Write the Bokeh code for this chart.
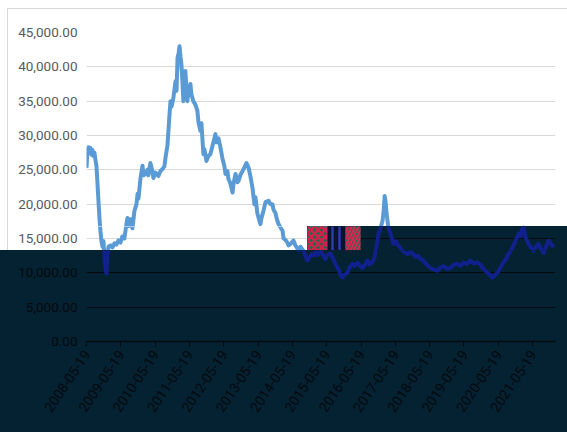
import numpy as np
import pandas as pd
from bokeh.plotting import figure
from bokeh.layouts import column, row
from bokeh.models import Range1d, FixedTicker, NumeralTickFormatter, Grid, ColumnDataSource
from bokeh.embed import file_html
from bokeh.resources import INLINE

# ---------------- data ----------------
dates = [
    "2008-05-19", "2008-05-28", "2008-06-08", "2008-06-18", "2008-06-29", "2008-07-10",
    "2008-07-21", "2008-08-01", "2008-08-12", "2008-08-22", "2008-09-02", "2008-09-13",
    "2008-09-23", "2008-10-04", "2008-10-15", "2008-10-26", "2008-11-05", "2008-11-16",
    "2008-11-27", "2008-12-07", "2008-12-18", "2008-12-29", "2009-01-08", "2009-01-30",
    "2009-02-19", "2009-03-12", "2009-04-02", "2009-04-23", "2009-05-15", "2009-06-05",
    "2009-06-26", "2009-07-18", "2009-07-29", "2009-08-08", "2009-08-30", "2009-09-20",
    "2009-10-11", "2009-11-02", "2009-11-13", "2009-11-23", "2009-12-15", "2010-01-05",
    "2010-01-16", "2010-02-06", "2010-02-26", "2010-03-08", "2010-03-30", "2010-04-20",
    "2010-05-01", "2010-05-22", "2010-06-23", "2010-07-14", "2010-08-05", "2010-08-26",
    "2010-09-06", "2010-09-27", "2010-10-08", "2010-10-19", "2010-10-30", "2010-11-10",
    "2010-11-30", "2010-12-22", "2011-01-02", "2011-01-13", "2011-01-24", "2011-02-03",
    "2011-02-13", "2011-02-23", "2011-03-05", "2011-03-16", "2011-03-27", "2011-04-06",
    "2011-04-17", "2011-04-28", "2011-05-08", "2011-05-30", "2011-06-09", "2011-06-30",
    "2011-07-22", "2011-08-12", "2011-08-23", "2011-09-13", "2011-09-24", "2011-10-15",
    "2011-10-26", "2011-11-16", "2011-12-07", "2011-12-29", "2012-01-20", "2012-02-20",
    "2012-03-01", "2012-03-23", "2012-04-13", "2012-05-04", "2012-05-26", "2012-06-06",
    "2012-06-27", "2012-07-07", "2012-07-29", "2012-08-20", "2012-08-31", "2012-09-21",
    "2012-10-12", "2012-10-23", "2012-11-13", "2012-12-04", "2012-12-26", "2013-01-16",
    "2013-02-07", "2013-02-27", "2013-03-20", "2013-04-10", "2013-04-21", "2013-05-12",
    "2013-06-13", "2013-06-24", "2013-07-15", "2013-08-06", "2013-09-07", "2013-09-28",
    "2013-10-19", "2013-10-30", "2013-11-20", "2013-12-01", "2013-12-22", "2014-01-13",
    "2014-02-04", "2014-02-14", "2014-03-06", "2014-03-27", "2014-04-07", "2014-04-28",
    "2014-05-30", "2014-06-20", "2014-07-23", "2014-08-13", "2014-09-14", "2014-10-05",
    "2014-10-27", "2014-11-17", "2014-12-08", "2014-12-30", "2015-01-21", "2015-02-10",
    "2015-03-13", "2015-04-03", "2015-05-05", "2015-05-26", "2015-06-27", "2015-07-19",
    "2015-08-20", "2015-09-21", "2015-10-12", "2015-11-03", "2015-11-24", "2015-12-26",
    "2016-01-17", "2016-02-18", "2016-03-09", "2016-04-11", "2016-05-13", "2016-06-03",
    "2016-07-05", "2016-07-27", "2016-08-17", "2016-09-18", "2016-10-09", "2016-10-20",
    "2016-11-11", "2016-11-21", "2016-12-12", "2017-01-03", "2017-01-14", "2017-01-25",
    "2017-02-04", "2017-02-14", "2017-02-24", "2017-03-06", "2017-03-28", "2017-04-29",
    "2017-05-20", "2017-06-21", "2017-07-12", "2017-08-03", "2017-09-04", "2017-09-26",
    "2017-10-28", "2017-11-18", "2017-12-20", "2018-01-11", "2018-02-11", "2018-03-14",
    "2018-04-15", "2018-05-28", "2018-06-29", "2018-08-10", "2018-09-12", "2018-10-14",
    "2018-11-15", "2018-12-28", "2019-01-29", "2019-03-11", "2019-04-12", "2019-05-14",
    "2019-06-15", "2019-07-28", "2019-08-29", "2019-10-10", "2019-11-11", "2019-12-02",
    "2020-01-04", "2020-01-25", "2020-02-26", "2020-03-18", "2020-04-08", "2020-05-10",
    "2020-06-11", "2020-07-02", "2020-08-04", "2020-08-25", "2020-09-26", "2020-10-18",
    "2020-11-19", "2020-12-21", "2021-01-11", "2021-01-22", "2021-02-12", "2021-03-04",
    "2021-04-05", "2021-04-26", "2021-05-28", "2021-06-18", "2021-07-20", "2021-08-11",
    "2021-09-12", "2021-10-03", "2021-11-04", "2021-11-26", "2021-12-28",
]
values = [
    25300, 27500, 28300, 27600, 28200, 27200,
    27900, 27000, 27500, 26500, 25500, 23000,
    20500, 18000, 16000, 14500, 13800, 14600,
    12000, 10500, 9900, 12500, 13800, 14000,
    13700, 14300, 14100, 14700, 14400, 15300,
    15000, 17100, 18000, 16800, 17800, 16500,
    19000, 20000, 21500, 20800, 23800, 25600,
    24200, 24400, 25000, 24200, 26000, 24800,
    23800, 24600, 24100, 24800, 25100, 25500,
    26700, 28500, 30700, 33000, 35000, 34200,
    35500, 37900, 36500, 41300, 42000, 43000,
    41500, 40400, 38000, 35000, 37500, 39400,
    37000, 35000, 36500, 37500, 36000, 35000,
    34500, 33600, 32000, 30700, 31800, 27300,
    28000, 26300, 27000, 27300, 28500, 30200,
    29000, 29600, 28300, 26700, 25500, 24400,
    24800, 23700, 23000, 21700, 23000, 24400,
    23200, 23400, 24300, 24800, 25400, 26000,
    25300, 24000, 22400, 20000, 21000, 18600,
    17100, 18000, 19000, 20300, 20500, 20000,
    20000, 19200, 18700, 18000, 17100, 16600,
    16100, 15000, 14800, 14400, 14000, 14200,
    14700, 14000, 13300, 13800, 13200, 12400,
    11800, 12300, 12700, 12500, 13000, 12600,
    13200, 12700, 12000, 12600, 12800, 12300,
    11300, 10500, 9800, 9300, 9700, 10000,
    10800, 11300, 11000, 11500, 10900, 10700,
    11300, 11800, 11200, 11600, 12200, 13200,
    14800, 15700, 16500, 17600, 19000, 21200,
    20300, 18700, 17600, 16500, 15700, 14200,
    14600, 14000, 13600, 13200, 12900, 12700,
    13100, 12800, 12300, 12500, 12000, 11800,
    11200, 10700, 10500, 10300, 10800, 11000,
    10600, 10700, 11200, 11300, 11000, 11500,
    11300, 11800, 11400, 11500, 11200, 10700,
    10300, 10000, 9600, 9300, 9600, 10000,
    10800, 11300, 11900, 12500, 13200, 13700,
    14700, 15700, 15300, 16200, 16600, 15200,
    14200, 13800, 13200, 13700, 14200, 13500,
    12900, 13600, 14700, 14300, 13700,
]
tick_labels = ["2008-05-19", "2009-05-19", "2010-05-19", "2011-05-19", "2012-05-19",
               "2013-05-19", "2014-05-19", "2015-05-19", "2016-05-19", "2017-05-19",
               "2018-05-19", "2019-05-19", "2020-05-19", "2021-05-19"]
y_ticks = [0, 5000, 10000, 15000, 20000, 25000, 30000, 35000, 40000, 45000]
x_start, x_end = "2008-05-19", "2022-01-17"
y_max = 45000

# ---------------- layout / style constants (pixels) ----------------
W, H = 567, 432
PL, PR, PT, PB = 86, 555, 32, 341     # plot area edges
CUT_X, CUT_HI, CUT_LO = 307, 226, 250  # edges of the dark band seen in the picture
FONT = "Roboto"
FONT_SIZE = "13.5px"
LIGHT = "#5b9bd5"
NAVY = "#10208c"
DARK = "#052232"
DARK_LINE = "#050a10"
DARK_TEXT = "#03090f"
GRAY_TEXT = "#595959"
GRID_GRAY = "#d9d9d9"
BORDER = "#d9d9d9"
# colour-noise block of the picture (pixel boxes: x0, x1, y0, y1, fill, hatch, hatch colour)
GLITCH = [
    (307, 327, 226, 237, "#e98ad6", "+", "#3fdcdc"),
    (307, 327, 237, 250, "#1d6a3c", "x", "#cf2250"),
    (327, 345, 226, 250, "#0b1130", "|", "#2b3ca6"),
    (345, 360, 226, 250, "#176d3f", "/", "#d02a55"),
]


def ms(s):
    return pd.Timestamp(s).value / 1e6


MS0, MS1 = ms(x_start), ms(x_end)


def px_to_x(px):
    return MS0 + (px - PL) * (MS1 - MS0) / (PR - PL)


def px_to_y(py):
    return (PB - py) * y_max / (PB - PT)


src = ColumnDataSource(dict(x=pd.to_datetime(dates), y=values))
tick_ms = [ms(t) for t in tick_labels]


def chart_border_css(w, h, top_edge):
    # thin light-grey chart-area border (top and left edges) drawn as CSS background
    layers = [f"linear-gradient({BORDER},{BORDER}) 7px {8 if top_edge else 0}px / 1px {h}px no-repeat"]
    if top_edge:
        layers.append(f"linear-gradient({BORDER},{BORDER}) 7px 8px / {w - 7}px 1px no-repeat")
    return ", ".join(layers + ["white"])


def panel(px0, px1, py0, py1, dark, yaxis_ticks=None, xaxis=False):
    w, h = px1 - px0, py1 - py0
    fx0, fx1 = max(px0, PL), min(px1, PR)
    fy0, fy1 = max(py0, PT), min(py1, PB)
    if dark:
        styles = {"background-color": DARK}
    else:
        styles = {"background": chart_border_css(w, h, py0 == 0)}
    p = figure(width=w, height=h, output_backend="svg", toolbar_location=None,
               x_axis_type="datetime",
               x_range=Range1d(px_to_x(fx0), px_to_x(fx1)),
               y_range=Range1d(px_to_y(fy1), px_to_y(fy0)),
               x_axis_location="below" if xaxis else None,
               y_axis_location="left" if yaxis_ticks is not None else None,
               min_border_left=fx0 - px0, min_border_right=px1 - fx1,
               min_border_top=fy0 - py0, min_border_bottom=py1 - fy1,
               styles=styles)
    p.background_fill_color = DARK if dark else "white"
    p.border_fill_color = DARK if dark else None
    p.outline_line_color = None
    p.renderers = []
    p.center = []
    lo, hi = px_to_y(fy1), px_to_y(fy0)
    gticks = [v for v in y_ticks if lo - 1 <= v <= hi + 1]
    p.add_layout(Grid(dimension=1, ticker=FixedTicker(ticks=gticks),
                      grid_line_color=DARK_LINE if dark else GRID_GRAY, grid_line_width=1))
    p.line("x", "y", source=src, line_color=NAVY if dark else LIGHT, line_width=4,
           line_join="round")
    txt = DARK_TEXT if dark else GRAY_TEXT
    if yaxis_ticks is not None:
        ya = p.yaxis[0]
        ya.ticker = FixedTicker(ticks=yaxis_ticks)
        ya.formatter = NumeralTickFormatter(format="0,0.00")
        ya.major_label_text_font = FONT
        ya.major_label_text_font_size = FONT_SIZE
        ya.major_label_text_color = txt
        ya.axis_line_color = None
        ya.major_tick_line_color = None
        ya.major_tick_out = 0
        ya.major_tick_in = 0
        ya.minor_tick_line_color = None
        ya.minor_tick_out = 0
        ya.major_label_standoff = 9
    if xaxis:
        xa = p.xaxis[0]
        xa.ticker = FixedTicker(ticks=tick_ms)
        xa.major_label_overrides = {t: lab for t, lab in zip(tick_ms, tick_labels)}
        xa.major_label_orientation = 0.98
        xa.major_label_text_font = FONT
        xa.major_label_text_font_size = "14px"
        xa.major_label_text_color = txt
        xa.axis_line_color = DARK_LINE
        xa.axis_line_width = 1.5
        xa.major_tick_line_color = DARK_LINE
        xa.major_tick_out = 5
        xa.major_tick_in = 0
        xa.minor_tick_line_color = None
        xa.major_label_standoff = 5
    return p


top_ticks = [v for v in y_ticks if v > px_to_y(CUT_HI)]
mid_ticks = [v for v in y_ticks if px_to_y(CUT_LO) < v <= px_to_y(CUT_HI)]
low_ticks = [v for v in y_ticks if v <= px_to_y(CUT_LO)]

p_top = panel(0, W, 0, CUT_HI, False, yaxis_ticks=top_ticks)
p_mid_l = panel(0, CUT_X, CUT_HI, CUT_LO, False, yaxis_ticks=mid_ticks)
p_mid_r = panel(CUT_X, W, CUT_HI, CUT_LO, True)
p_low = panel(0, W, CUT_LO, H, True, yaxis_ticks=low_ticks, xaxis=True)

for (gx0, gx1, gy0, gy1, fc, hp, hc) in GLITCH:
    p_mid_r.quad(left=px_to_x(gx0), right=px_to_x(gx1), top=px_to_y(gy0) + 2000,
                 bottom=px_to_y(gy1) - 2000, fill_color=fc, line_color=None,
                 hatch_pattern=hp, hatch_color=hc, hatch_weight=2.5, hatch_scale=7)

layout = column(p_top, row(p_mid_l, p_mid_r, spacing=0), p_low, spacing=0)

open("out.html", "w").write(file_html(layout, INLINE))
